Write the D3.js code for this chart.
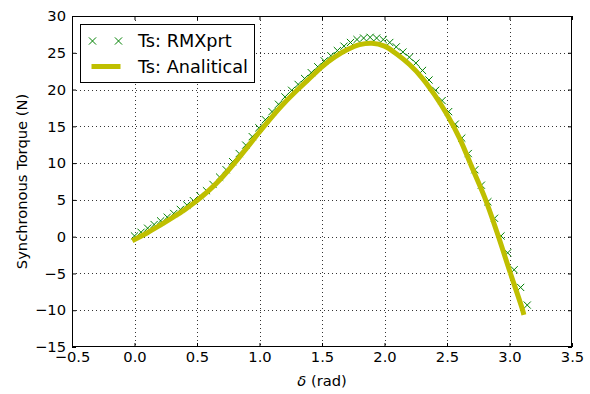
<!DOCTYPE html>
<html><head><meta charset="utf-8">
<script src="https://cdn.jsdelivr.net/npm/d3@7"></script>
<style>
body{margin:0;background:#fff}
svg{display:block}
text{font-family:"DejaVu Sans",sans-serif;fill:#000}
</style>
</head><body>
<svg id="c" width="590" height="394"></svg>
<script>
// ---- data ----
const rmxDelta = [0.000,0.052,0.105,0.157,0.209,0.262,0.314,0.367,0.419,0.471,0.524,0.576,0.628,0.681,0.733,0.785,0.838,0.890,0.942,0.995,1.047,1.100,1.152,1.204,1.257,1.309,1.361,1.414,1.466,1.518,1.571,1.623,1.676,1.728,1.780,1.833,1.885,1.937,1.990,2.042,2.094,2.147,2.199,2.251,2.304,2.356,2.409,2.461,2.513,2.566,2.618,2.670,2.723,2.775,2.827,2.880,2.932,2.985,3.037,3.089,3.142];
const rmxTorque = [0.1,0.6,1.15,1.65,2.15,2.65,3.15,3.7,4.3,4.9,5.55,6.25,7.1,8.1,9.1,10.2,11.3,12.45,13.6,14.8,15.9,17.0,18.0,19.0,19.9,20.7,21.5,22.3,23.1,23.9,24.6,25.3,25.9,26.4,26.8,27.0,27.1,27.0,26.8,26.4,25.8,25.1,24.4,23.6,22.6,21.3,19.9,18.5,17.0,15.3,13.4,11.3,9.1,7.0,4.75,2.5,0.1,-2.2,-4.5,-6.9,-9.3];
const anaDelta = [0.0,0.1,0.2,0.3,0.4,0.5,0.6,0.7,0.8,0.9,1.0,1.1,1.2,1.3,1.4,1.5,1.6,1.7,1.8,1.9,2.0,2.1,2.2,2.3,2.4,2.5,2.6,2.7,2.8,2.9,3.0,3.1,3.11];
const anaTorque = [-0.4,0.5,1.5,2.55,3.65,4.9,6.35,8.05,10.0,12.1,14.25,16.3,18.2,19.9,21.5,23.1,24.4,25.4,26.1,26.3,25.9,24.8,23.4,21.6,19.3,16.6,13.4,9.4,5.4,0.6,-4.6,-9.7,-10.3];
const xTicks = [-0.5,0.0,0.5,1.0,1.5,2.0,2.5,3.0,3.5];
const yTicks = [-15,-10,-5,0,5,10,15,20,25,30];
const seriesNames = ["Ts: RMXprt","Ts: Analitical"];
const xLabel = "(rad)";
const yLabel = "Synchronous Torque (N)";

// ---- layout ----
const L = 72, R = 572, T = 16, B = 347;
const svg = d3.select("#c");
const x = d3.scaleLinear().domain([-0.5,3.5]).range([L,R]);
const y = d3.scaleLinear().domain([-15,30]).range([B,T]);
const green = "#008000", yellow = "#bfbf00";
const fmtX = d => d3.format(".1f")(d).replace("-", "\u2212");
const fmtY = d => String(d).replace("-", "\u2212");
const FS = 14.7;

// grid
const grid = svg.append("g").attr("stroke","#000").attr("stroke-width",0.8).attr("stroke-dasharray","1,3");
grid.selectAll("line.v").data(xTicks.slice(1,-1)).join("line")
  .attr("x1",d=>Math.round(x(d))+0.5).attr("x2",d=>Math.round(x(d))+0.5).attr("y1",T).attr("y2",B);
grid.selectAll("line.h").data(yTicks.slice(1,-1)).join("line")
  .attr("y1",d=>Math.round(y(d))+0.5).attr("y2",d=>Math.round(y(d))+0.5).attr("x1",L).attr("x2",R);

// markers
const mk = svg.append("g").attr("stroke",green).attr("stroke-width",1).attr("fill","none");
const s = 3.6;
const xPath = (cx,cy) => `M${cx-s},${cy-s}L${cx+s},${cy+s}M${cx-s},${cy+s}L${cx+s},${cy-s}`;
mk.selectAll("path").data(rmxDelta.map((d,i)=>[d,rmxTorque[i]])).join("path")
  .attr("d", d => xPath(x(d[0]), y(d[1])));

// analytical line
const line = d3.line().x(d=>x(d[0])).y(d=>y(d[1])).curve(d3.curveCatmullRom.alpha(0.5));
svg.append("path").datum(anaDelta.map((d,i)=>[d,anaTorque[i]]))
  .attr("d", line).attr("fill","none").attr("stroke",yellow).attr("stroke-width",5)
  .attr("stroke-linecap","square").attr("stroke-linejoin","round");

// axes
const axB = d3.axisBottom(x).tickValues(xTicks).tickFormat(fmtX).tickSizeInner(-4).tickSizeOuter(0).tickPadding(5);
const axT = d3.axisTop(x).tickValues(xTicks).tickFormat("").tickSizeInner(-4).tickSizeOuter(0);
const axLf = d3.axisLeft(y).tickValues(yTicks).tickFormat(fmtY).tickSizeInner(-4).tickSizeOuter(0).tickPadding(6);
const axRt = d3.axisRight(y).tickValues(yTicks).tickFormat("").tickSizeInner(-4).tickSizeOuter(0);
function style(g){ g.select(".domain").remove(); g.selectAll("text").attr("font-size",FS).attr("font-family","DejaVu Sans"); g.selectAll("line").attr("stroke","#000"); }
svg.append("g").attr("transform",`translate(0,${B})`).call(axB).call(style);
svg.append("g").attr("transform",`translate(0,${T})`).call(axT).call(style);
svg.append("g").attr("transform",`translate(${L},0)`).call(axLf).call(style);
svg.append("g").attr("transform",`translate(${R},0)`).call(axRt).call(style);

// frame
svg.append("rect").attr("x",L+0.5).attr("y",T+0.5).attr("width",R-L-1).attr("height",B-T-1)
  .attr("fill","none").attr("stroke","#000").attr("stroke-width",1);

// labels
const xl = svg.append("text").attr("x",(L+R)/2).attr("y",386).attr("text-anchor","middle").attr("font-size",FS);
xl.append("tspan").attr("font-style","italic").text("\u03b4");
xl.append("tspan").text(" " + xLabel);
svg.append("text").attr("transform",`translate(22,${(T+B)/2}) rotate(-90)`).attr("text-anchor","middle")
  .attr("dy","0.35em").attr("font-size",FS).text(yLabel);

// legend
const lg = svg.append("g");
lg.append("rect").attr("x",80.5).attr("y",24.5).attr("width",174).attr("height",58)
  .attr("fill","#fff").attr("stroke","#000").attr("stroke-width",1);
const r1 = 41, r2 = 66.5;
lg.append("g").attr("stroke",green).attr("stroke-width",1).attr("fill","none")
  .selectAll("path").data([92.5,118.5]).join("path").attr("d",d=>xPath(d,r1));
lg.append("line").attr("x1",94).attr("x2",118).attr("y1",r2).attr("y2",r2)
  .attr("stroke",yellow).attr("stroke-width",5).attr("stroke-linecap","square");
lg.selectAll("text").data(seriesNames).join("text").attr("x",138).attr("y",(d,i)=>i?r2:r1)
  .attr("dy","0.36em").attr("font-size",17.7).text(d=>d);
</script>
</body></html>
